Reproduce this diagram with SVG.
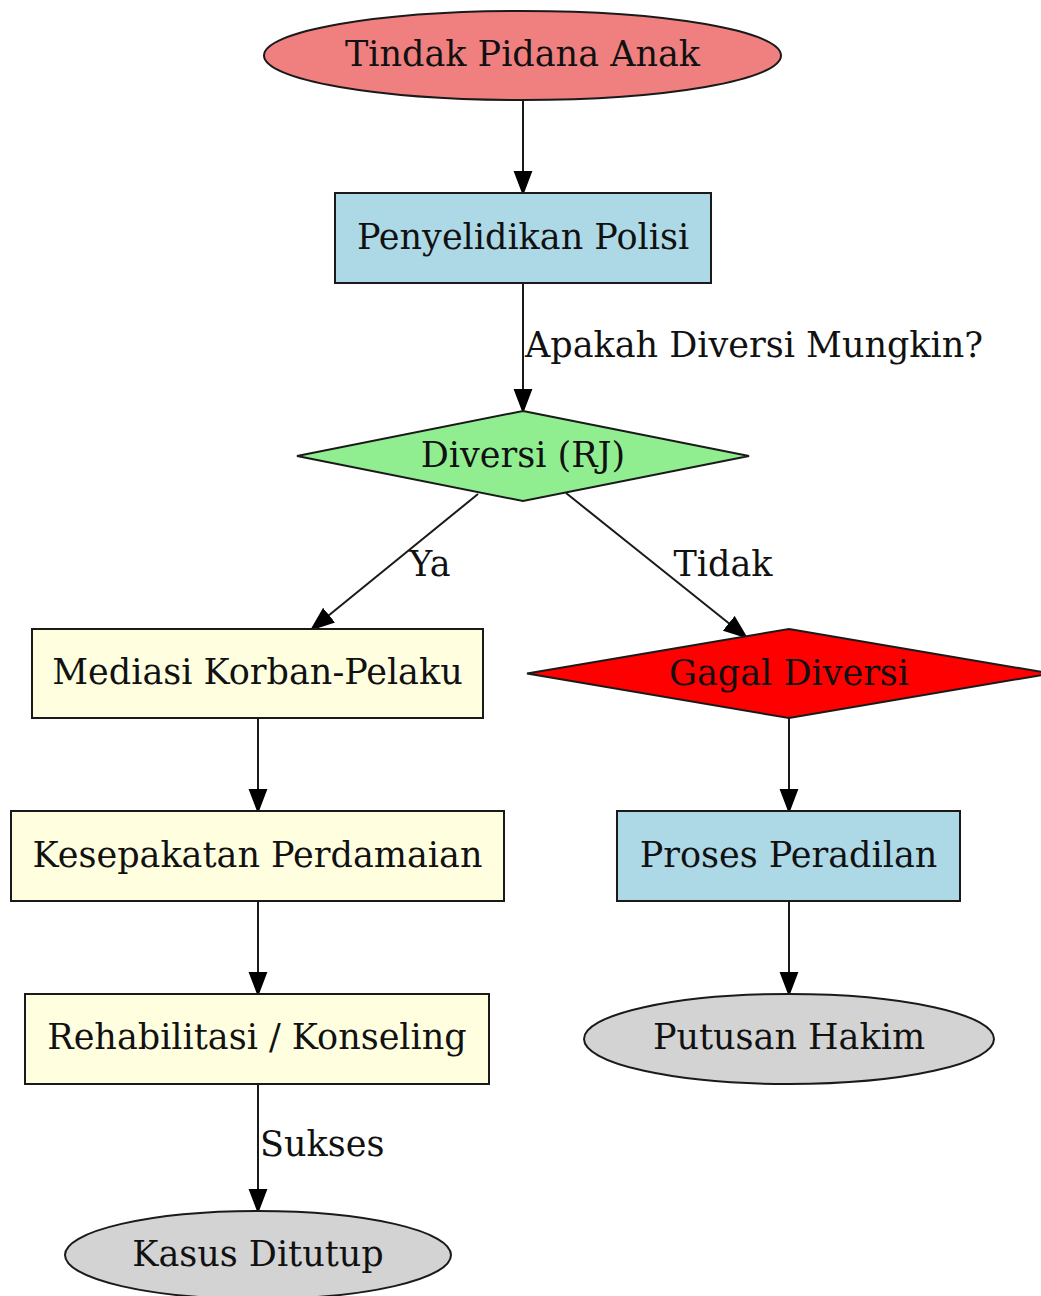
<svg xmlns="http://www.w3.org/2000/svg" width="1041" height="1296" viewBox="0 0 1041 1296">
<defs>
<marker id="ah" markerUnits="userSpaceOnUse" markerWidth="24" markerHeight="20" viewBox="0 0 24 20" refX="22" refY="10" orient="auto">
<path d="M1,2 L22,10 L1,18 Z" fill="#000" stroke="#000" stroke-width="2"/>
</marker>
</defs>
<style>
.n{stroke:#1a1a1a;stroke-width:2}
.t{font-family:"DejaVu Serif","Liberation Serif",serif;font-size:35px;fill:#111;text-anchor:middle}
.l{font-family:"DejaVu Serif","Liberation Serif",serif;font-size:35px;fill:#111}
.e{fill:none;stroke:#1a1a1a;stroke-width:2;marker-end:url(#ah)}
</style>
<rect width="1041" height="1296" fill="#fff"/>
<g id="edges">
<path class="e" d="M523,100 L523,193"/>
<path class="e" d="M523,283 L523,411"/>
<path class="e" d="M478,494 L312,629"/>
<path class="e" d="M566,493 L746,637"/>
<path class="e" d="M258,718 L258,811"/>
<path class="e" d="M258,901 L258,994"/>
<path class="e" d="M258,1084 L258,1211"/>
<path class="e" d="M789,718 L789,811"/>
<path class="e" d="M789,901 L789,994"/>
<text class="l" x="525" y="357">Apakah Diversi Mungkin?</text>
<text class="t" x="430" y="576">Ya</text>
<text class="t" x="723" y="576">Tidak</text>
<text class="l" x="260" y="1156">Sukses</text>
</g>
<g id="tindak">
<ellipse class="n" cx="522.5" cy="55.5" rx="258.5" ry="44.5" fill="#F08080"/>
<text class="t" x="522.5" y="66">Tindak Pidana Anak</text>
</g>
<g id="penyelidikan">
<rect class="n" x="335" y="193" width="376" height="90" fill="#ADD8E6"/>
<text class="t" x="523" y="249">Penyelidikan Polisi</text>
</g>
<g id="diversi">
<polygon class="n" points="523,411 749,456 523,501 297,456" fill="#90EE90"/>
<text class="t" x="523" y="467">Diversi (RJ)</text>
</g>
<g id="mediasi">
<rect class="n" x="32" y="629" width="451" height="89" fill="#FFFFE0"/>
<text class="t" x="257.5" y="684">Mediasi Korban-Pelaku</text>
</g>
<g id="gagal">
<polygon class="n" points="789,629 1051,673.5 789,718 527,673.5" fill="#FF0000"/>
<text class="t" x="789" y="685">Gagal Diversi</text>
</g>
<g id="kesepakatan">
<rect class="n" x="11" y="811" width="493" height="90" fill="#FFFFE0"/>
<text class="t" x="257.5" y="867">Kesepakatan Perdamaian</text>
</g>
<g id="proses">
<rect class="n" x="617" y="811" width="343" height="90" fill="#ADD8E6"/>
<text class="t" x="788.5" y="867">Proses Peradilan</text>
</g>
<g id="rehabilitasi">
<rect class="n" x="25" y="994" width="464" height="90" fill="#FFFFE0"/>
<text class="t" x="257" y="1049">Rehabilitasi / Konseling</text>
</g>
<g id="putusan">
<ellipse class="n" cx="789" cy="1039" rx="205" ry="45" fill="#D3D3D3"/>
<text class="t" x="789" y="1049">Putusan Hakim</text>
</g>
<g id="kasus">
<ellipse class="n" cx="258" cy="1255" rx="193" ry="44" fill="#D3D3D3"/>
<text class="t" x="258" y="1266">Kasus Ditutup</text>
</g>
</svg>
